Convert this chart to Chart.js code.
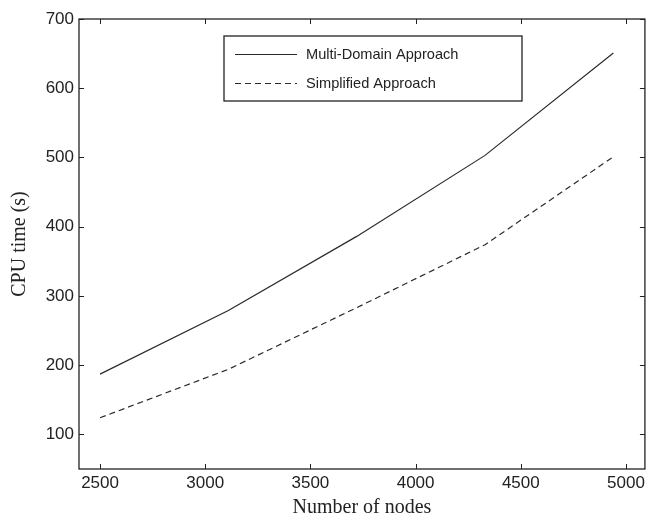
<!DOCTYPE html>
<html>
<head>
<meta charset="utf-8">
<script src="https://cdn.jsdelivr.net/npm/chart.js@4/dist/chart.umd.min.js"></script>
<style>
  html, body { margin: 0; padding: 0; background: #fff; }
  #wrap { width: 649px; height: 520px; }
</style>
</head>
<body>
<div id="wrap"><canvas id="grafico" width="649" height="520"></canvas></div>
<script>
// Dados
const numeroNos = [2500, 3110, 3720, 4330, 4940];
const multiDominio = [187, 279, 386, 503, 651];
const simplificado = [124, 194, 283, 374, 501];

const ticksX = [2500, 3000, 3500, 4000, 4500, 5000];
const ticksY = [100, 200, 300, 400, 500, 600, 700];

const corLinha = '#2a2a2a';
const corTexto = '#222';

// Moldura estilo MATLAB com marcas para dentro + legenda em caixa
const molduraPlugin = {
    id: 'moldura',
    afterDraw(chart) {
        const { ctx, chartArea: a, scales } = chart;
        const tam = 5;
        ctx.save();
        ctx.strokeStyle = '#222';
        ctx.lineWidth = 1.3;
        ctx.strokeRect(a.left, a.top, a.right - a.left, a.bottom - a.top);

        ctx.lineWidth = 1;
        ctx.beginPath();
        ticksX.forEach(v => {
            const x = Math.round(scales.x.getPixelForValue(v)) + 0.5;
            ctx.moveTo(x, a.bottom); ctx.lineTo(x, a.bottom - tam);
            ctx.moveTo(x, a.top); ctx.lineTo(x, a.top + tam);
        });
        ticksY.forEach(v => {
            const y = Math.round(scales.y.getPixelForValue(v)) + 0.5;
            ctx.moveTo(a.left, y); ctx.lineTo(a.left + tam, y);
            ctx.moveTo(a.right, y); ctx.lineTo(a.right - tam, y);
        });
        ctx.stroke();

        // legenda
        const box = { x: 224, y: 36, w: 298, h: 65 };
        ctx.fillStyle = '#fff';
        ctx.fillRect(box.x, box.y, box.w, box.h);
        ctx.lineWidth = 1.3;
        ctx.strokeStyle = '#222';
        ctx.strokeRect(box.x, box.y, box.w, box.h);

        const linhasY = [54, 83];
        chart.data.datasets.forEach((ds, i) => {
            const y = linhasY[i] + 0.5;
            ctx.beginPath();
            ctx.strokeStyle = ds.borderColor;
            ctx.lineWidth = ds.borderWidth;
            ctx.setLineDash(ds.borderDash || []);
            ctx.moveTo(235, y);
            ctx.lineTo(297, y);
            ctx.stroke();
            ctx.setLineDash([]);
            ctx.fillStyle = corTexto;
            ctx.font = '14.6px "Liberation Sans", Arial, sans-serif';
            ctx.textBaseline = 'middle';
            ctx.textAlign = 'left';
            ctx.fillText(ds.label, 306, y);
        });
        ctx.restore();
    }
};

function criarGrafico() {
    const ctx = document.getElementById('grafico').getContext('2d');

    new Chart(ctx, {
        type: 'line',
        data: {
            datasets: [{
                label: 'Multi-Domain Approach',
                data: numeroNos.map((n, i) => ({ x: n, y: multiDominio[i] })),
                borderColor: corLinha,
                borderWidth: 1.2,
                pointRadius: 0,
                tension: 0
            }, {
                label: 'Simplified Approach',
                data: numeroNos.map((n, i) => ({ x: n, y: simplificado[i] })),
                borderColor: corLinha,
                borderWidth: 1.2,
                borderDash: [6, 4],
                pointRadius: 0,
                tension: 0
            }]
        },
        options: {
            responsive: false,
            animation: false,
            layout: { padding: { top: 19, right: 3, left: 0, bottom: 0 } },
            plugins: {
                legend: { display: false },
                tooltip: { enabled: false }
            },
            scales: {
                x: {
                    type: 'linear',
                    min: 2400,
                    max: 5090,
                    grid: { display: false, drawTicks: false },
                    border: { display: false },
                    afterBuildTicks: s => { s.ticks = ticksX.map(v => ({ value: v })); },
                    afterFit: s => { s.height = 51; },
                    ticks: {
                        padding: 4,
                        color: corTexto,
                        maxRotation: 0,
                        callback: v => String(v),
                        font: { family: '"Liberation Sans", Arial, sans-serif', size: 17 }
                    },
                    title: {
                        display: true,
                        text: 'Number of nodes',
                        color: corTexto,
                        padding: { top: 0, bottom: 0 },
                        font: { family: '"Liberation Serif", "Times New Roman", serif', size: 20, lineHeight: 1.2 }
                    }
                },
                y: {
                    type: 'linear',
                    min: 50,
                    max: 700,
                    grid: { display: false, drawTicks: false },
                    border: { display: false },
                    afterBuildTicks: s => { s.ticks = ticksY.map(v => ({ value: v })); },
                    afterFit: s => { s.width = 79; },
                    ticks: {
                        padding: 5,
                        color: corTexto,
                        callback: v => String(v),
                        font: { family: '"Liberation Sans", Arial, sans-serif', size: 17 }
                    },
                    title: {
                        display: true,
                        text: 'CPU time (s)',
                        color: corTexto,
                        padding: { top: 8, bottom: 0 },
                        font: { family: '"Liberation Serif", "Times New Roman", serif', size: 20, lineHeight: 1.2 }
                    }
                }
            }
        },
        plugins: [molduraPlugin]
    });
}

document.addEventListener('DOMContentLoaded', criarGrafico);
</script>
</body>
</html>
